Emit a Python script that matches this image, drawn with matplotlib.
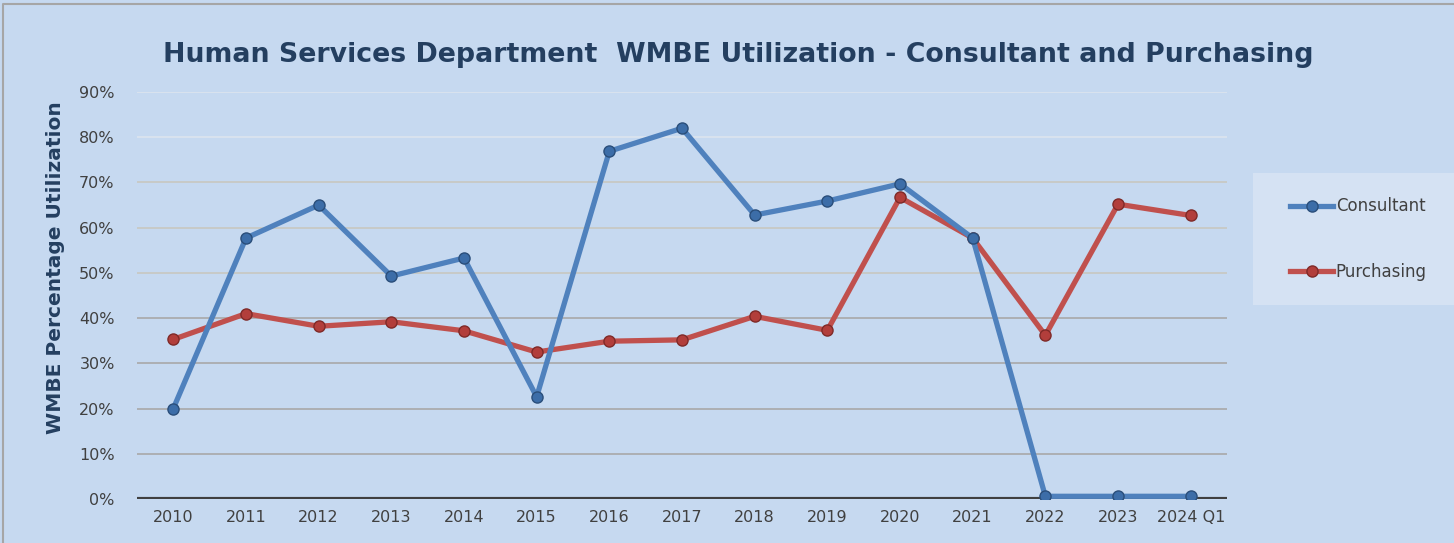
import matplotlib.pyplot as plt
import matplotlib.patches as mpatches
import matplotlib.lines as mlines
import numpy as np

years = ["2010", "2011", "2012", "2013", "2014", "2015", "2016", "2017",
         "2018", "2019", "2020", "2021", "2022", "2023", "2024 Q1"]
consultant = [20.0, 57.7, 65.0, 49.3, 53.3, 22.6, 76.9, 82.0,
              62.8, 65.9, 69.7, 57.7, 0.6, 0.6, 0.6]
purchasing = [35.3, 41.0, 38.2, 39.2, 37.2, 32.5, 34.9, 35.2,
              40.4, 37.3, 66.7, 57.7, 36.2, 65.2, 62.7]

bg = "#C6D9F0"
navy = "#243F60"

fig = plt.figure(figsize=(14.54, 5.43), dpi=100)
fig.patch.set_facecolor(bg)
# border on top and left only
fig.lines.append(mlines.Line2D([0.002, 0.002, 1.0], [0.0, 0.992, 0.992], transform=fig.transFigure,
                               color="#A6A6A6", linewidth=1.5))
# legend box
fig.patches.append(mpatches.Rectangle((1253 / 1454, 1 - 305 / 543), 201 / 1454, 132 / 543,
                                      transform=fig.transFigure, facecolor="#D5E2F3",
                                      edgecolor="none", zorder=0))

ax = fig.add_axes([0.0942, 0.081, 0.7497, 0.7495])
ax.set_facecolor(bg)

x = np.arange(len(years))
ax.plot(x, consultant, color="#4F81BD", linewidth=3.8, marker="o", markersize=8,
        markerfacecolor="#3C6DA8", markeredgecolor="#2A4E7A", markeredgewidth=1,
        label="Consultant", zorder=4, solid_joinstyle="round")
ax.plot(x, purchasing, color="#C0504D", linewidth=3.8, marker="o", markersize=8,
        markerfacecolor="#B23E3B", markeredgecolor="#7F2A28", markeredgewidth=1,
        label="Purchasing", zorder=3, solid_joinstyle="round")

ax.set_xlim(-0.5, len(years) - 0.5)
ax.set_ylim(0, 90)
ax.set_yticks(np.arange(0, 91, 10))
ax.set_yticklabels([f"{v}%" for v in range(0, 91, 10)])
ax.set_xticks(x)
ax.set_xticklabels(years)
ax.tick_params(axis="both", length=0, labelsize=11.5, labelcolor="#404040")
ax.tick_params(axis="y", pad=16)
ax.tick_params(axis="x", pad=8)

for v in range(10, 91, 10):
    shade = "#A8A8A8" if v < 50 else "#C8C8C0"
    if v >= 80:
        shade = "#DCE4EE"
    ax.axhline(v, color=shade, linewidth=1.2, zorder=1)
ax.axhline(0, color="#404040", linewidth=3, zorder=2)

for s in ax.spines.values():
    s.set_visible(False)

ax.set_ylabel("WMBE Percentage Utilization", fontsize=14.5, fontweight="bold",
              color=navy)
ax.yaxis.set_label_coords(-0.066, 0.569)

fig.text(0.5076, 0.899, "Human Services Department  WMBE Utilization - Consultant and Purchasing",
         ha="center", va="center", fontsize=19.3, fontweight="bold", color=navy)

fig.legend(loc="center left", bbox_to_anchor=(1275 / 1454, 1 - 239 / 543), frameon=False,
           fontsize=12, labelspacing=2.84, handlelength=2.6, handletextpad=0.15,
           labelcolor="#404040")

fig.savefig("out.png", dpi=100, facecolor=bg)
